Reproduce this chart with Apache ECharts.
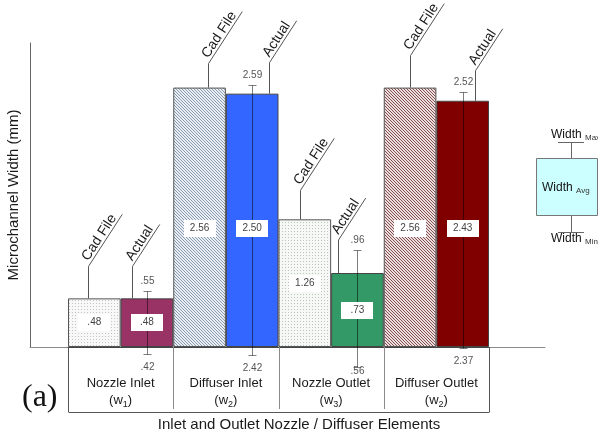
<!DOCTYPE html>
<html>
<head>
<meta charset="utf-8">
<script src="https://cdn.jsdelivr.net/npm/echarts@6/dist/echarts.min.js"></script>
<style>html,body{margin:0;padding:0;background:#fff;}#c{width:598px;height:438px;}</style>
</head>
<body>
<div id="c"></div>
<script>
// ---- data ----
const categories = ['Nozzle Inlet', 'Diffuser Inlet', 'Nozzle Outlet', 'Diffuser Outlet'];
const subscripts = ['1', '2', '3', '2'];
const cadValues = [0.48, 2.56, 1.26, 2.56];
const actualValues = [0.48, 2.50, 0.73, 2.43];
const actualMax = [0.55, 2.59, 0.96, 2.52];
const actualMin = [0.42, 2.42, 0.56, 2.37];
// where the lower whisker cap is drawn on the plot's width scale
const minWhiskerDrawn = [-0.07, -0.08, -0.20, -0.01];

// ---- styling ----
const FONT = "'Liberation Sans', Arial, sans-serif";
function tile(size, bg, fg, pts) {
  const c = document.createElement('canvas');
  c.width = c.height = size;
  const g = c.getContext('2d');
  g.fillStyle = bg; g.fillRect(0, 0, size, size);
  g.fillStyle = fg;
  pts.forEach(p => g.fillRect(p[0], p[1], 1, 1));
  return { image: c, repeat: 'repeat' };
}
const dotsGrey = tile(3, '#f8f8f8', '#c4c4c4', [[0, 0]]);
const dotsGreen = tile(3, '#f5f8f5', '#b8c6bd', [[0, 0]]);
const hatchBlue = tile(3, '#e9eff4', '#8a9bae', [[0, 0], [1, 1], [2, 2]]);
const hatchRed = tile(3, '#ecdede', '#835050', [[0, 0], [1, 1], [2, 2]]);
const cadFills = [dotsGrey, hatchBlue, dotsGreen, hatchRed];
const actualFills = ['#993366', '#3366ff', '#339966', '#800000'];

// leader-line layout (px offsets from the bar's left edge / bar top)
const cadLeaderDx = [20, 35, 21, 26], cadLeaderRise = [32, 24, 29, 32];
const actLeaderDx = [11, 43, 7, 39], actLeaderRise = [32, 31, 33, 30];
const ANG = 57 * Math.PI / 180;

const fmt = v => (v < 1 ? v.toFixed(2).replace(/^0/, '') : v.toFixed(2));

const chart = echarts.init(document.getElementById('c'), null, { renderer: 'canvas' });

const option = {
  animation: false,
  backgroundColor: '#fff',
  grid: [
    { left: 30, right: 53, top: 43, bottom: 91, outerBoundsMode: 'none', containLabel: false },
    { left: 68, right: 109, top: 43, bottom: 91, outerBoundsMode: 'none', containLabel: false }
  ],
  xAxis: [
    { gridIndex: 0, type: 'value', min: 0, max: 1,
      axisLine: { show: true, lineStyle: { color: '#8a8a8a', width: 1 } },
      axisTick: { show: false }, axisLabel: { show: false }, splitLine: { show: false } },
    { gridIndex: 1, type: 'category', data: categories, boundaryGap: true,
      axisLine: { show: true, lineStyle: { color: '#444', width: 1 } },
      axisTick: { show: false },
      axisLabel: {
        interval: 0, margin: 28,
        formatter: (v, i) => `{a|${v}}\n{b|(w}{s|${subscripts[i]}}{b|)}`,
        rich: {
          a: { fontSize: 13, lineHeight: 17, color: '#1a1a1a', fontFamily: FONT },
          b: { fontSize: 13, lineHeight: 17, color: '#1a1a1a', fontFamily: FONT },
          s: { fontSize: 9, lineHeight: 12, color: '#1a1a1a', fontFamily: FONT, verticalAlign: 'bottom' }
        }
      } }
  ],
  yAxis: [
    { gridIndex: 0, type: 'value', min: 0, max: 3,
      axisLine: { show: true, lineStyle: { color: '#666', width: 1 } },
      axisTick: { show: false }, axisLabel: { show: false }, splitLine: { show: false },
      name: 'Microchannel Width (mm)', nameLocation: 'middle', nameGap: 9,
      nameTextStyle: { fontSize: 15, color: '#1a1a1a', fontFamily: FONT } },
    { gridIndex: 1, type: 'value', min: 0, max: 3, show: false }
  ],
  graphic: [
    { type: 'text', x: 299, y: 425, style: { text: 'Inlet and Outlet Nozzle / Diffuser Elements',
      align: 'center', verticalAlign: 'middle', fontSize: 15, fill: '#1a1a1a', fontFamily: FONT } },
    { type: 'text', x: 22, y: 398, style: { text: '(a)', align: 'left', verticalAlign: 'middle',
      fontSize: 32, fill: '#111', fontFamily: "'Liberation Serif', 'Times New Roman', serif" } },
    // explanatory key on the right
    { type: 'rect', shape: { x: 536.5, y: 158.5, width: 61, height: 57 },
      style: { fill: '#ccffff', stroke: '#777', lineWidth: 1 } },
    { type: 'line', shape: { x1: 571.5, y1: 142, x2: 571.5, y2: 158 }, style: { stroke: '#666' } },
    { type: 'line', shape: { x1: 558, y1: 142.5, x2: 584, y2: 142.5 }, style: { stroke: '#666' } },
    { type: 'line', shape: { x1: 571.5, y1: 216, x2: 571.5, y2: 232 }, style: { stroke: '#666' } },
    { type: 'line', shape: { x1: 558, y1: 232.5, x2: 584, y2: 232.5 }, style: { stroke: '#666' } },
    { type: 'text', x: 551, y: 135, style: { text: '{w|Width} {s|Max}', verticalAlign: 'middle',
      rich: { w: { fontSize: 12, fill: '#111', fontFamily: FONT }, s: { fontSize: 8, fill: '#333', fontFamily: FONT, padding: [6, 0, 0, 0] } } } },
    { type: 'text', x: 542, y: 188, style: { text: '{w|Width} {s|Avg}', verticalAlign: 'middle',
      rich: { w: { fontSize: 12, fill: '#111', fontFamily: FONT }, s: { fontSize: 8, fill: '#333', fontFamily: FONT, padding: [6, 0, 0, 0] } } } },
    { type: 'text', x: 551, y: 239, style: { text: '{w|Width} {s|Min}', verticalAlign: 'middle',
      rich: { w: { fontSize: 12, fill: '#111', fontFamily: FONT }, s: { fontSize: 8, fill: '#333', fontFamily: FONT, padding: [6, 0, 0, 0] } } } }
  ],
  series: [
    { name: 'Cad File', type: 'bar', xAxisIndex: 1, yAxisIndex: 1, z: 2,
      barGap: '0%', barCategoryGap: '0%',
      itemStyle: { borderColor: '#555', borderWidth: 1 },
      data: cadValues.map((v, i) => ({ value: v, itemStyle: { color: cadFills[i] } })) },
    { name: 'Actual', type: 'bar', xAxisIndex: 1, yAxisIndex: 1, z: 2,
      barGap: '0%', barCategoryGap: '0%',
      itemStyle: { borderColor: '#444', borderWidth: 1 },
      data: actualValues.map((v, i) => ({ value: v, itemStyle: { color: actualFills[i] } })) },
    // whiskers of the measured widths
    { name: 'Range', type: 'custom', xAxisIndex: 1, yAxisIndex: 1, z: 3, clip: false,
      data: actualValues.map((v, i) => [i, actualMax[i], minWhiskerDrawn[i]]),
      encode: { x: 0, y: [1, 2] },
      renderItem: (params, api) => {
        const i = api.value(0);
        const catW = api.size([1, 0])[0];
        const cx = Math.round(api.coord([i, 0])[0] + catW / 4) + 0.5;
        const y0 = api.coord([i, 0])[1];
        const yTop = Math.round(api.coord([i, api.value(1)])[1]) + 0.5;
        const yBot = Math.round(api.coord([i, api.value(2)])[1]) + 0.5;
        const st = { stroke: 'rgba(0,0,0,0.5)', lineWidth: 1 };
        return { type: 'group', children: [
          { type: 'line', shape: { x1: cx, y1: yTop, x2: cx, y2: yBot }, style: st },
          { type: 'line', shape: { x1: cx - 4, y1: yTop, x2: cx + 4, y2: yTop }, style: st },
          { type: 'line', shape: { x1: cx - 4, y1: yBot, x2: cx + 4, y2: yBot }, style: st },
          { type: 'text', x: cx, y: yTop - 10.5, style: { text: fmt(actualMax[i]), align: 'center',
            verticalAlign: 'middle', fontSize: 10, fill: '#555', fontFamily: FONT } },
          { type: 'text', x: cx, y: Math.min(yBot + 13, y0 + 24), style: { text: fmt(actualMin[i]), align: 'center',
            verticalAlign: 'middle', fontSize: 10, fill: '#555', fontFamily: FONT } }
        ] };
      } },
    // value boxes
    { name: 'Values', type: 'custom', xAxisIndex: 1, yAxisIndex: 1, z: 4, clip: false,
      data: cadValues.map((v, i) => [i, v, 0]).concat(actualValues.map((v, i) => [i, v, 1])),
      encode: { x: 0, y: 1 },
      renderItem: (params, api) => {
        const i = api.value(0), v = api.value(1), s = api.value(2);
        const catW = api.size([1, 0])[0];
        const cx = api.coord([i, 0])[0] + (s === 0 ? -catW / 4 : catW / 4);
        const cy = api.coord([i, Math.min(v / 2, 1.17)])[1];
        return { type: 'group', children: [
          { type: 'rect', shape: { x: Math.round(cx - 16), y: Math.round(cy - 8.5), width: 32, height: 17 },
            style: { fill: '#fff' } },
          { type: 'text', x: cx, y: cy, style: { text: fmt(v), align: 'center', verticalAlign: 'middle',
            fontSize: 10, fill: '#444', fontFamily: FONT } }
        ] };
      } },
    // leader-line callouts "Cad File" / "Actual"
    { name: 'Callouts', type: 'custom', xAxisIndex: 1, yAxisIndex: 1, z: 5, clip: false,
      data: cadValues.map((v, i) => [i, v, 0]).concat(actualValues.map((v, i) => [i, v, 1])),
      encode: { x: 0, y: 1 },
      renderItem: (params, api) => {
        const i = api.value(0), v = api.value(1), s = api.value(2);
        const catW = api.size([1, 0])[0];
        const left = api.coord([i, 0])[0] - catW / 2 + (s === 1 ? catW / 2 : 0);
        const bx = Math.round(left + (s === 0 ? cadLeaderDx[i] : actLeaderDx[i])) + 0.5;
        const top = api.coord([i, v])[1];
        const by = top - (s === 0 ? cadLeaderRise[i] : actLeaderRise[i]);
        const len = s === 0 ? 62 : 50;
        const sn = Math.sin(ANG), cs = Math.cos(ANG);
        const ex = bx + cs * len, ey = by - sn * len;
        // text sits just above the slanted underline
        const tx = bx + cs * 4 + sn * 0.3, ty = by - sn * 4 + cs * 0.3;
        return { type: 'group', children: [
          { type: 'polyline', shape: { points: [[bx, top], [bx, by], [ex, ey]] },
            style: { stroke: '#555', lineWidth: 1, fill: null } },
          { type: 'text', x: tx, y: ty, rotation: ANG,
            style: { text: s === 0 ? 'Cad File' : 'Actual', align: 'left', verticalAlign: 'bottom',
              fontSize: 14, fill: '#1a1a1a', fontFamily: FONT } }
        ] };
      } },
    // category table frame under the bars
    { name: 'Table', type: 'custom', xAxisIndex: 1, yAxisIndex: 1, z: 1, clip: false,
      data: [[0, 0]],
      encode: { x: 0, y: 1 },
      renderItem: (params, api) => {
        const catW = api.size([1, 0])[0];
        const y0 = Math.round(api.coord([0, 0])[1]);
        const xs = categories.map((c, k) => Math.round(api.coord([k, 0])[0] - catW / 2) + 0.5);
        const xr = Math.round(api.coord([categories.length - 1, 0])[0] + catW / 2) + 0.5;
        const h = 65;
        const kids = [
          { type: 'line', shape: { x1: xs[0], y1: y0, x2: xs[0], y2: y0 + h }, style: { stroke: '#555' } },
          { type: 'line', shape: { x1: xr, y1: y0, x2: xr, y2: y0 + h }, style: { stroke: '#555' } },
          { type: 'line', shape: { x1: xs[0], y1: y0 + h + 0.5, x2: xr, y2: y0 + h + 0.5 }, style: { stroke: '#555' } }
        ];
        xs.slice(1).forEach(x => kids.push({ type: 'line', shape: { x1: x, y1: y0, x2: x, y2: y0 + h - 3 },
          style: { stroke: '#8a8a8a' } }));
        return { type: 'group', children: kids };
      } }
  ]
};
chart.setOption(option);
</script>
</body>
</html>
